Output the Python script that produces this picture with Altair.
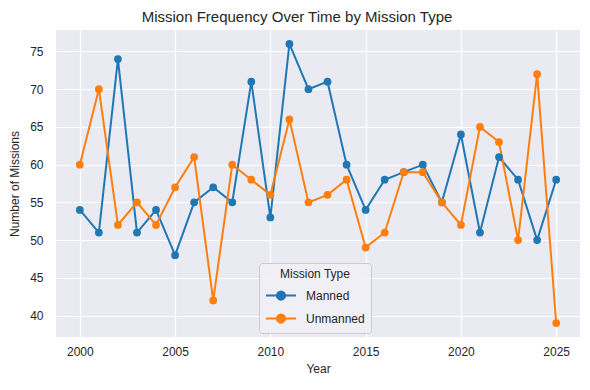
import altair as alt
import pandas as pd

years = list(range(2000, 2026))
manned = [54, 51, 74, 51, 54, 48, 55, 57, 55, 71, 53, 76, 70, 71, 60, 54, 58, 59, 60, 55, 64, 51, 61, 58, 50, 58]
unmanned = [60, 70, 52, 55, 52, 57, 61, 42, 60, 58, 56, 66, 55, 56, 58, 49, 51, 59, 59, 55, 52, 65, 63, 50, 72, 39]
types = ["Manned", "Unmanned"]
colors = ["#1f77b4", "#ff7f0e"]

rows = []
for t, vals in zip(types, [manned, unmanned]):
    for y, v in zip(years, vals):
        rows.append({"Year": y, "Missions": v, "Mission Type": t})
df = pd.DataFrame(rows)

r = 0.55
sym = f"M-1,0L3,0M{1 - r},0A{r},{r} 0 1,0 {1 + r},0A{r},{r} 0 1,0 {1 - r},0Z"

color = alt.Color(
    "Mission Type:N",
    scale=alt.Scale(domain=types, range=colors),
    legend=alt.Legend(
        title="Mission Type",
        orient="none",
        legendX=203,
        legendY=233,
        symbolType=sym,
        symbolSize=225,
        symbolStrokeWidth=2,
        fillColor="rgba(240,240,246,0.85)",
        strokeColor="#CCCCCC",
        cornerRadius=3,
        padding=6,
        titleAnchor="middle",
        titleFontSize=12,
        titleFontWeight="normal",
        titleColor="#262626",
        titlePadding=6,
        labelFontSize=12,
        labelColor="#262626",
        rowPadding=6,
        labelOffset=24,
    ),
)

x = alt.X(
    "Year:Q",
    scale=alt.Scale(domain=[1998.75, 2026.25], nice=False, zero=False),
    axis=alt.Axis(values=[2000, 2005, 2010, 2015, 2020, 2025], format="d", title="Year"),
)
y = alt.Y(
    "Missions:Q",
    scale=alt.Scale(domain=[37.15, 77.85], nice=False, zero=False),
    axis=alt.Axis(values=[40, 45, 50, 55, 60, 65, 70, 75], title="Number of Missions"),
)

base = alt.Chart(df)
line = base.mark_line(strokeWidth=2).encode(x=x, y=y, color=color)
pts = base.mark_point(filled=True, size=60, opacity=1).encode(x=x, y=y, color=color)

chart = (
    alt.layer(line, pts)
    .properties(
        width=524,
        height=307,
        title=alt.TitleParams("Mission Frequency Over Time by Mission Type", fontSize=15, fontWeight="normal", color="#262626", font="Liberation Sans", offset=5, dx=-21),
        autosize=alt.AutoSizeParams(type="none"),
        padding={"left": 48, "top": 22, "right": 2, "bottom": 45},
    )
    .configure_view(fill="#EAEAF2", stroke=None)
    .configure_axis(
        grid=True,
        gridColor="white",
        gridWidth=1.2,
        domain=False,
        ticks=False,
        labelFont="Liberation Sans",
        titleFont="Liberation Sans",
        labelFontSize=12,
        titleFontSize=12,
        titleFontWeight="normal",
        labelColor="#262626",
        titleColor="#262626",
    )
    .configure_axisX(labelPadding=9, titlePadding=6)
    .configure_axisY(labelPadding=13, titlePadding=8)
    .configure_legend(labelFont="Liberation Sans", titleFont="Liberation Sans")
)

chart.save("out.html", embed_options={"renderer": "svg", "actions": False})
